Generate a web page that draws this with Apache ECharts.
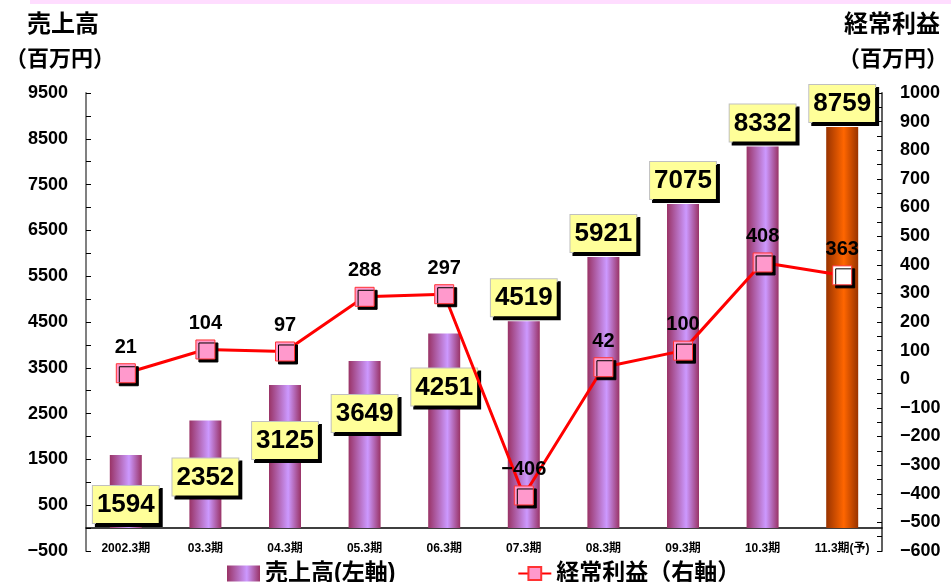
<!DOCTYPE html>
<html>
<head>
<meta charset="utf-8">
<script src="https://cdn.jsdelivr.net/npm/echarts@6/dist/echarts.min.js"></script>
<style>
  html, body { margin: 0; padding: 0; background: #fff; }
  #chart { width: 951px; height: 582px; }
  .band { position: absolute; left: 30px; top: 0; width: 921px; height: 4px; background: #ffddff; z-index: 5; }
</style>
</head>
<body>
<div class="band"></div>
<div id="chart"></div>
<script>
const categories = ['2002.3期', '03.3期', '04.3期', '05.3期', '06.3期', '07.3期', '08.3期', '09.3期', '10.3期', '11.3期(予)']
const sales = [1594, 2352, 3125, 3649, 4251, 4519, 5921, 7075, 8332, 8759]
const profit = [21, 104, 97, 288, 297, -406, 42, 100, 408, 363]

// label boxes of the first five bars sit below the bar top
const salesLabelDrop = [73, 80, 79, 76, 77, 0, 0, 0, 0, 0]

const FONT = "'Liberation Sans', 'Noto Sans CJK JP', sans-serif"
const minus = v => String(v).replace('-', '\u2212')

const purple = new echarts.graphic.LinearGradient(0, 0, 1, 0, [
  { offset: 0, color: '#993366' },
  { offset: 0.6, color: '#cc99ff' },
  { offset: 1, color: '#993366' }
])
const orange = new echarts.graphic.LinearGradient(0, 0, 1, 0, [
  { offset: 0, color: '#993300' },
  { offset: 0.55, color: '#ff6600' },
  { offset: 1, color: '#993300' }
])

const chart = echarts.init(document.getElementById('chart'))

const option = {
  backgroundColor: '#fff',
  animation: false,
  textStyle: { fontFamily: FONT },
  title: [
    { text: '売上高', left: 22, top: 8, textStyle: { fontSize: 24, fontWeight: 'bold', color: '#000', fontFamily: FONT } },
    { text: '（百万円）', left: 0, top: 44, textStyle: { fontSize: 22, fontWeight: 'bold', color: '#000', fontFamily: FONT } },
    { text: '経常利益', right: 6, top: 8, textStyle: { fontSize: 24, fontWeight: 'bold', color: '#000', fontFamily: FONT } },
    { text: '（百万円）', right: -2, top: 44, textStyle: { fontSize: 22, fontWeight: 'bold', color: '#000', fontFamily: FONT } }
  ],
  legend: {
    left: 222,
    top: 557,
    itemWidth: 33,
    itemHeight: 16,
    itemGap: 122,
    textStyle: { fontSize: 23, fontWeight: 'bold', color: '#000', fontFamily: FONT },
    data: [
      { name: '売上高(左軸)', icon: 'rect', itemStyle: { color: purple } },
      { name: '経常利益（右軸）' }
    ]
  },
  grid: { left: 86, right: 69, top: 93, bottom: 31, containLabel: false },
  xAxis: {
    type: 'category',
    data: categories,
    axisLine: { onZero: true, onZeroAxisIndex: 0, lineStyle: { color: '#000', width: 1.5 } },
    axisTick: { inside: true, length: 5, lineStyle: { color: '#000' } },
    axisLabel: { margin: -8, fontSize: 12, fontWeight: 'bold', color: '#000', interval: 0 }
  },
  yAxis: [
    {
      type: 'value',
      min: -500,
      max: 9500,
      interval: 500,
      splitLine: { show: false },
      axisLine: { show: true, lineStyle: { color: '#808080', width: 2 } },
      axisTick: { show: true, inside: true, length: 5, lineStyle: { color: '#000' } },
      axisLabel: {
        margin: 18,
        fontSize: 18,
        fontWeight: 'bold',
        color: '#000',
        formatter: v => ((v + 500) % 1000 === 0 ? minus(v) : '')
      }
    },
    {
      type: 'value',
      min: -600,
      max: 1000,
      interval: 50,
      position: 'right',
      splitLine: { show: false },
      axisLine: { show: true, lineStyle: { color: '#606060', width: 2 } },
      axisTick: { show: true, inside: true, length: 5, lineStyle: { color: '#000' } },
      axisLabel: {
        margin: 18,
        fontSize: 18,
        fontWeight: 'bold',
        color: '#000',
        formatter: v => (v % 100 === 0 ? minus(v) : '')
      }
    }
  ],
  series: [
    {
      name: '売上高(左軸)',
      type: 'bar',
      yAxisIndex: 0,
      barWidth: 32,
      z: 2,
      itemStyle: { color: purple },
      data: sales.map((value, i) => ({
        value,
        itemStyle: { color: i === sales.length - 1 ? orange : purple },
        label: { offset: [0, salesLabelDrop[i]] }
      })),
      label: {
        show: true,
        position: 'top',
        distance: 5,
        fontSize: 26,
        fontWeight: 'bold',
        fontFamily: FONT,
        color: '#000',
        lineHeight: 30,
        backgroundColor: '#ffff99',
        borderColor: '#c0c0c0',
        borderWidth: 1,
        padding: [4, 4, 3, 4],
        shadowColor: '#000',
        shadowOffsetX: 3,
        shadowOffsetY: 3,
        shadowBlur: 0
      }
    },
    {
      name: '経常利益（右軸）',
      type: 'line',
      yAxisIndex: 1,
      z: 3,
      symbol: 'rect',
      symbolSize: 19,
      lineStyle: { color: '#ff0000', width: 3 },
      itemStyle: {
        color: '#ff99cc',
        borderColor: '#ff3333',
        borderWidth: 1,
        shadowColor: '#000',
        shadowOffsetX: 3,
        shadowOffsetY: 3,
        shadowBlur: 0
      },
      data: profit.map((value, i) => (
        i === profit.length - 1
          ? { value, itemStyle: { color: '#ffffff' } }
          : value
      )),
      label: {
        show: true,
        position: 'top',
        distance: 6,
        fontSize: 20,
        fontWeight: 'bold',
        fontFamily: FONT,
        color: '#000',
        formatter: p => minus(p.value)
      }
    }
  ]
}

chart.setOption(option)
</script>
</body>
</html>
